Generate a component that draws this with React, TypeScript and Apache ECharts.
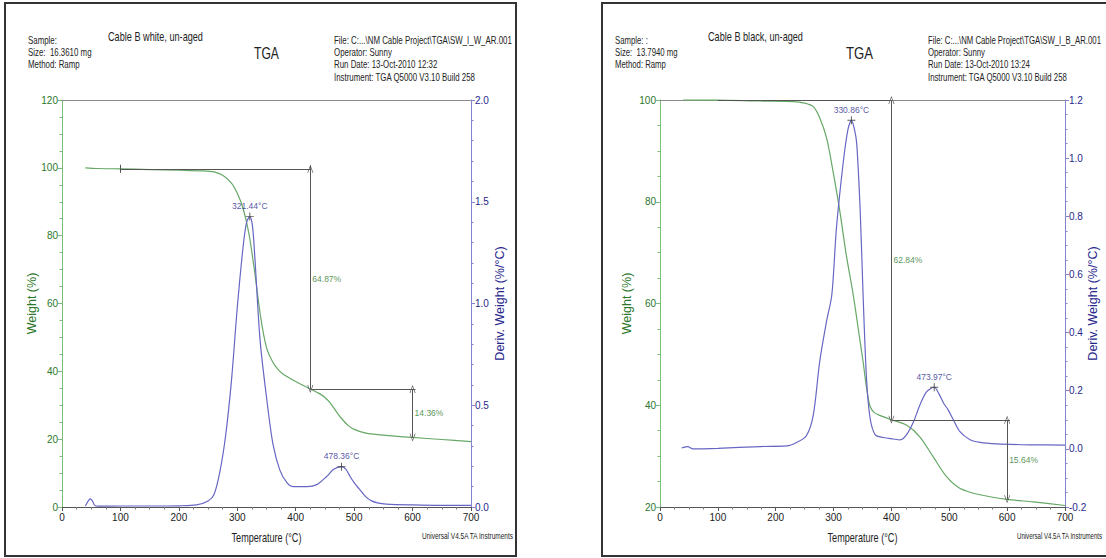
import React, { useEffect, useRef } from "react";
import * as echarts from "echarts";

// ---------- DATA ----------
// Left panel: Cable B white, un-aged
const whiteWeightT = [40, 60, 100, 150, 200, 240, 260, 275, 290, 300, 310, 320, 330, 340, 350, 360, 370, 380, 400, 425, 440, 450, 460, 470, 480, 490, 500, 520, 550, 600, 650, 700];
const whiteWeight = [100.0, 99.8, 99.7, 99.5, 99.3, 99.1, 98.8, 97.8, 95.5, 92.5, 88, 80.5, 69, 56, 47, 43, 40.5, 39, 37, 34.8, 33.5, 32.3, 30.5, 28, 25.8, 24, 22.9, 21.8, 21.2, 20.5, 19.9, 19.3];
const whiteDerivT = [40, 44, 48, 52, 56, 62, 100, 150, 200, 230, 250, 260, 270, 280, 290, 300, 310, 316, 321.44, 326, 330, 339, 350, 361, 373, 385, 396, 410, 420, 436, 453, 465, 478.36, 486, 493, 500, 510, 520, 530, 540, 555, 600, 650, 700];
const whiteDeriv = [0.005, 0.025, 0.04, 0.03, 0.008, 0.004, 0.005, 0.005, 0.006, 0.01, 0.03, 0.06, 0.17, 0.35, 0.62, 0.98, 1.28, 1.4, 1.427, 1.38, 1.23, 0.82, 0.54, 0.31, 0.18, 0.12, 0.1, 0.1, 0.1, 0.11, 0.15, 0.185, 0.198, 0.185, 0.15, 0.12, 0.084, 0.05, 0.03, 0.02, 0.014, 0.01, 0.008, 0.008];
const whitePeakT = [321.44, 478.36];
const whitePeakD = [1.427, 0.198];
const whiteStepT = [100, 425, 600];
const whiteStepW = [99.7, 34.8, 20.5];
const whiteLoss = ["64.87%", "14.36%"];

// Right panel: Cable B black, un-aged
const blackWeightT = [40, 100, 173, 230, 250, 265, 276, 288, 299, 311, 322, 334, 345, 351, 357, 363, 370, 380, 400, 426, 449, 472, 495, 518, 553, 600, 645, 700];
const blackWeight = [100.0, 99.98, 99.8, 99.7, 99.4, 98.7, 96.5, 92.5, 86, 78, 69.5, 61.7, 53.2, 48.6, 43.4, 39.8, 38.6, 38.0, 37.14, 36.1, 33.8, 29.9, 26, 23.7, 22.4, 21.5, 21.0, 20.3];
const blackDerivT = [37.5, 43, 48, 57, 100, 173, 219, 236, 253, 265, 276, 288, 297, 305, 317, 325, 330.86, 336, 340, 346, 351, 357, 363, 372, 386, 403, 415, 426, 438, 449, 461, 473.97, 482, 490, 498, 507, 518, 536, 553, 582, 640, 700];
const blackDeriv = [0.003, 0.006, 0.008, 0.0, 0.002, 0.008, 0.01, 0.022, 0.045, 0.117, 0.3, 0.44, 0.53, 0.76, 0.99, 1.1, 1.13, 1.1, 1.05, 0.82, 0.53, 0.24, 0.107, 0.048, 0.039, 0.034, 0.031, 0.048, 0.092, 0.15, 0.197, 0.212, 0.19, 0.158, 0.134, 0.1, 0.06, 0.031, 0.022, 0.017, 0.014, 0.013];
const blackPeakT = [330.86, 473.97];
const blackPeakD = [1.13, 0.212];
const blackStepT = [100, 400, 600];
const blackStepW = [99.98, 37.14, 21.5];
const blackLoss = ["62.84%", "15.64%"];

const tempTicks = [0, 100, 200, 300, 400, 500, 600, 700];

// ---------- STYLE ----------
const FONT = "'Liberation Sans', Arial, sans-serif";
const GREEN_CURVE = "#66a866";
const GREEN_AXIS = "#79bd79";
const GREEN_TEXT = "#2c772c";
const BLUE_CURVE = "#6666c4";
const BLUE_AXIS = "#8585cf";
const BLUE_TEXT = "#28288c";
const ANNOT = "#555555";
const ARROW = "path://M5,0L10,10L8.8,10L5,2.2L1.2,10L0,10Z";
const CROSS = "path://M0,4.4H10V5.6H0Z M4.4,0H5.6V10H4.4Z";

const zip = (a: number[], b: number[]) => a.map((v, i) => [v, b[i]]);

let measureCtx: CanvasRenderingContext2D | null = null;
function measure(text: string, size: number) {
  if (!measureCtx) measureCtx = document.createElement("canvas").getContext("2d");
  if (!measureCtx) return text.length * size * 0.5;
  measureCtx.font = `${size}px ${FONT}`;
  return measureCtx.measureText(text).width;
}

// text squeezed horizontally (narrow font look) to a given width
function fitText(text: string, x: number, y: number, size: number, width: number, fill = "#222", align = "left") {
  const w = measure(text, size);
  return {
    type: "text",
    x,
    y,
    scaleX: Math.min(1, width / w),
    style: { text, fill, font: `${size}px ${FONT}`, align, verticalAlign: "middle" },
  };
}

function annotations(stepT: number[], stepW: number[]) {
  const arrowPt = (x: number, y: number) => ({ coord: [x, y], symbol: ARROW, symbolSize: [6, 8] });
  return [
    [{ coord: [stepT[0], stepW[0]] }, { coord: [stepT[1], stepW[0]] }],
    [{ coord: [stepT[0], stepW[0] - 1.2] }, { coord: [stepT[0], stepW[0] + 1.2] }],
    [{ coord: [stepT[1], stepW[0] + 1.0] }, { coord: [stepT[1], stepW[0]] }],
    [arrowPt(stepT[1], stepW[0]), arrowPt(stepT[1], stepW[1])],
    [{ coord: [stepT[1], stepW[1]] }, { coord: [stepT[2] + 5, stepW[1]] }],
    [arrowPt(stepT[2], stepW[1]), arrowPt(stepT[2], stepW[2])],
  ];
}

function makeXAxis(grid: number) {
  return {
    gridIndex: grid,
    type: "value",
    min: tempTicks[0],
    max: tempTicks[tempTicks.length - 1],
    interval: tempTicks[1] - tempTicks[0],
    position: "bottom",
    axisLine: { show: true, onZero: false, lineStyle: { color: "#555", width: 1 } },
    axisTick: { show: true, length: 4, lineStyle: { color: "#555" } },
    minorTick: { show: true, splitNumber: 4, length: 2.5, lineStyle: { color: "#777" } },
    axisLabel: { color: "#222", fontSize: 10, fontFamily: FONT, margin: 5 },
    splitLine: { show: false },
  };
}

function makeTopAxis(grid: number) {
  return {
    gridIndex: grid,
    type: "value",
    min: 0,
    max: 700,
    position: "top",
    axisLine: { show: true, onZero: false, lineStyle: { color: "#8a8a8a", width: 1 } },
    axisTick: { show: false },
    axisLabel: { show: false },
    splitLine: { show: false },
  };
}

function makeYAxis(grid: number, side: "left" | "right", min: number, max: number, interval: number, minorSplit: number, isDeriv: boolean, gap: number) {
  const color = isDeriv ? BLUE_AXIS : GREEN_AXIS;
  const text = isDeriv ? BLUE_TEXT : GREEN_TEXT;
  return {
    gridIndex: grid,
    type: "value",
    position: side,
    min,
    max,
    interval,
    name: isDeriv ? "Deriv. Weight (%/°C)" : "Weight (%)",
    nameLocation: "middle",
    nameRotate: 90,
    nameGap: gap,
    nameMoveOverlap: false,
    nameTextStyle: { color: text, fontSize: 12.5, fontFamily: FONT },
    axisLine: { show: true, onZero: false, lineStyle: { color, width: 1 } },
    axisTick: { show: true, length: 4, lineStyle: { color } },
    minorTick: { show: true, splitNumber: minorSplit, length: 2.5, lineStyle: { color } },
    axisLabel: {
      color: text,
      fontSize: 10,
      fontFamily: FONT,
      margin: 4,
      formatter: (v: number) => (isDeriv ? v.toFixed(1) : String(Math.round(v))),
    },
    splitLine: { show: false },
  };
}

function panelSeries(
  xi: number,
  yW: number,
  yD: number,
  wT: number[], w: number[], dT: number[], d: number[],
  pT: number[], pD: number[],
  sT: number[], sW: number[], loss: string[]
) {
  return [
    {
      type: "line",
      xAxisIndex: xi,
      yAxisIndex: yW,
      data: zip(wT, w),
      smooth: 0.3,
      showSymbol: false,
      clip: false,
      lineStyle: { color: GREEN_CURVE, width: 1.2 },
      itemStyle: { color: GREEN_CURVE },
      markLine: {
        silent: true,
        symbol: ["none", "none"],
        label: { show: false },
        lineStyle: { color: ANNOT, width: 1, type: "solid" },
        itemStyle: { color: ANNOT },
        data: annotations(sT, sW),
      },
      z: 3,
    },
    {
      type: "line",
      xAxisIndex: xi,
      yAxisIndex: yD,
      data: zip(dT, d),
      smooth: 0.3,
      showSymbol: false,
      lineStyle: { color: BLUE_CURVE, width: 1.2 },
      itemStyle: { color: BLUE_CURVE },
      z: 4,
    },
    {
      type: "scatter",
      xAxisIndex: xi,
      yAxisIndex: yD,
      data: zip(pT, pD),
      symbol: CROSS,
      symbolSize: 8,
      itemStyle: { color: "#333" },
      label: {
        show: true,
        position: "top",
        distance: 2,
        color: BLUE_TEXT,
        fontSize: 8.5,
        fontFamily: FONT,
        formatter: (p: any) => `${p.value[0].toFixed(2)}°C`,
      },
      z: 5,
    },
    {
      type: "scatter",
      xAxisIndex: xi,
      yAxisIndex: yW,
      data: loss.map((t, i) => ({ value: [sT[i + 1], (sW[i] + sW[i + 1]) / 2], name: t })),
      symbol: "circle",
      symbolSize: 0,
      label: {
        show: true,
        position: "right",
        distance: 2,
        color: GREEN_TEXT,
        fontSize: 8.5,
        fontFamily: FONT,
        formatter: (p: any) => p.name,
      },
      z: 5,
    },
  ];
}

function headerTexts(
  x0: number, sample: string, size: string, title: string, titleX: number,
  tgaX: number, tgaW: number, fileX: number, fileW: number, file: string, runDate: string
) {
  const fs = 11;
  const scale = fileW / measure(file, fs);
  const small = (text: string, x: number, y: number) => fitText(text, x, y, fs, measure(text, fs) * scale);
  return [
    small(sample, x0, 40),
    small(size, x0, 52),
    small("Method: Ramp", x0, 64),
    fitText(title, titleX, 37, 12, 95),
    fitText("TGA", tgaX, 53, 17, tgaW),
    small(file, fileX, 40),
    small("Operator: Sunny", fileX, 52),
    small(runDate, fileX, 64),
    small("Instrument: TGA Q5000 V3.10 Build 258", fileX, 77),
  ];
}

export default function App() {
  const ref = useRef<HTMLDivElement>(null);
  useEffect(() => {
    const chart = echarts.init(ref.current!, null, { renderer: "svg" });
    const option: any = {
      animation: false,
      backgroundColor: "#ffffff",
      textStyle: { fontFamily: FONT },
      grid: [
        { left: 62, top: 100, width: 409, height: 407 },
        { left: 660, top: 100, width: 405, height: 407 },
      ],
      xAxis: [makeXAxis(0), makeXAxis(1), makeTopAxis(0), makeTopAxis(1)],
      yAxis: [
        makeYAxis(0, "left", 0, 120, 20, 4, false, 24),
        makeYAxis(0, "right", 0, 2, 0.5, 5, true, 22),
        makeYAxis(1, "left", 20, 100, 20, 4, false, 27),
        makeYAxis(1, "right", -0.2, 1.2, 0.2, 4, true, 21),
      ],
      series: [
        ...panelSeries(0, 0, 1, whiteWeightT, whiteWeight, whiteDerivT, whiteDeriv, whitePeakT, whitePeakD, whiteStepT, whiteStepW, whiteLoss),
        ...panelSeries(1, 2, 3, blackWeightT, blackWeight, blackDerivT, blackDeriv, blackPeakT, blackPeakD, blackStepT, blackStepW, blackLoss),
      ],
      graphic: [
        { type: "rect", shape: { x: 5, y: 3, width: 511, height: 553 }, style: { fill: "none", stroke: "#333", lineWidth: 2 }, z: 100 },
        { type: "rect", shape: { x: 602, y: 3, width: 520, height: 553 }, style: { fill: "none", stroke: "#333", lineWidth: 2 }, z: 100 },
        ...headerTexts(28, "Sample:", "Size:  16.3610 mg", "Cable B white, un-aged", 108, 254, 25, 334, 178, "File: C:...\\NM Cable Project\\TGA\\SW_I_W_AR.001", "Run Date: 13-Oct-2010 12:32"),
        ...headerTexts(615, "Sample: :", "Size:  13.7940 mg", "Cable B black, un-aged", 708, 846, 27, 928, 173, "File: C:...\\NM Cable Project\\TGA\\SW_I_B_AR.001", "Run Date: 13-Oct-2010 13:24"),
        fitText("Temperature (°C)", 266.5, 537, 13, 70, "#222", "center"),
        fitText("Temperature (°C)", 862.5, 537, 13, 70, "#222", "center"),
        fitText("Universal V4.5A TA Instruments", 422, 536, 8.5, 92),
        fitText("Universal V4.5A TA Instruments", 1017, 536, 8.5, 86),
      ],
    };
    chart.setOption(option);
    return () => chart.dispose();
  }, []);
  return <div ref={ref} style={{ position: "fixed", left: 0, top: 0, width: 1106, height: 558, background: "#fff" }} />;
}
